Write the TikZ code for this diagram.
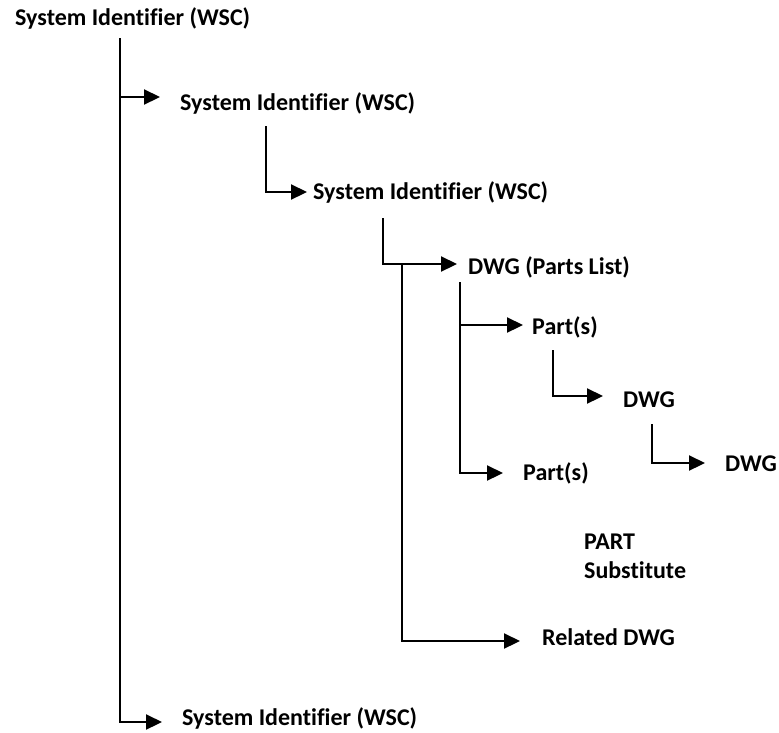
\documentclass[tikz,border=0pt]{standalone}
\usepackage{fontspec}
\setmainfont[Ligatures={NoCommon}]{Carlito}
\usetikzlibrary{arrows.meta}
\begin{document}
\begin{tikzpicture}[x=1pt,y=-1pt,
  lbl/.style={anchor=west,inner sep=0pt,font=\fontsize{24}{29}\selectfont\bfseries},
  arr/.style={line width=2.2pt,-{Triangle[length=16pt,width=15pt]}}]
\useasboundingbox (0,0) rectangle (779,732);
\node[lbl] (t1) at (15,18) {System Identifier (WSC)};
\node[lbl] (t2) at (180,103) {System Identifier (WSC)};
\node[lbl] (t3) at (313,192) {System Identifier (WSC)};
\node[lbl] (t4) at (468,267) {DWG (Parts List)};
\node[lbl] (t5) at (532,327) {Part(s)};
\node[lbl] (t6) at (523,473) {Part(s)};
\node[lbl] (t7) at (623,400) {DWG};
\node[lbl] (t8) at (725,464) {DWG};
\node[lbl,align=left] (t9) at (584,556) {PART\\Substitute};
\node[lbl] (t10) at (542,637) {Related DWG};
\node[lbl] (t11) at (182,718) {System Identifier (WSC)};
% line 1
\coordinate (a1) at (120,38);
\coordinate (a1b) at (120,97);
\coordinate (a1e) at (160,97);
\coordinate (a1f) at (162,722);
\draw[arr] (a1) |- (a1f);
\draw[arr] (a1b) -- (a1e);
% line 2
\coordinate (a2) at (266,126);
\coordinate (a2e) at (307,192);
\draw[arr] (a2) |- (a2e);
% line 3
\coordinate (a3) at (383,218);
\coordinate (a3e) at (457,264);
\draw[arr] (a3) |- (a3e);
% line 4
\coordinate (a4) at (402,264);
\coordinate (a4e) at (520,641);
\draw[arr] (a4) |- (a4e);
% line 5
\coordinate (a5) at (460,282);
\coordinate (a5b) at (460,325);
\coordinate (a5c) at (523,325);
\coordinate (a5e) at (503,473);
\draw[arr] (a5) |- (a5e);
\draw[arr] (a5b) -- (a5c);
% line 6
\coordinate (a6) at (553,350);
\coordinate (a6e) at (603,396);
\draw[arr] (a6) |- (a6e);
% line 7
\coordinate (a7) at (652,424);
\coordinate (a7e) at (705,463);
\draw[arr] (a7) |- (a7e);
\end{tikzpicture}
\end{document}
